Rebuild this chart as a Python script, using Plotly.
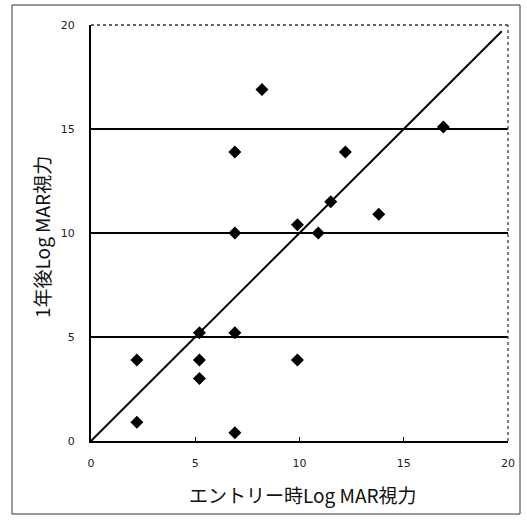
import plotly.graph_objects as go

# Data
entry_logmar = [8.2, 6.9, 12.2, 16.9, 11.5, 13.8, 9.9, 6.9, 10.9,
                5.2, 6.9, 2.2, 5.2, 9.9, 5.2, 2.2, 6.9]
after_1yr_logmar = [16.9, 13.9, 13.9, 15.1, 11.5, 10.9, 10.4, 10.0, 10.0,
                    5.2, 5.2, 3.9, 3.9, 3.9, 3.0, 0.9, 0.4]
diag_x = [0, 19.7]
diag_y = [0, 19.7]
tick_vals = [0, 5, 10, 15, 20]
tick_text = ["0", "5", "10", "15", "20"]

x_title = "エントリー時Log MAR視力"
y_title = "1年後Log MAR視力"

W, H = 527, 520
L, R, T, B = 91, 508, 25, 441
pw, ph = R - L, B - T


def px(x):
    return (x - L) / pw


def py(y):
    return (B - y) / ph


fig = go.Figure()
fig.add_trace(go.Scatter(x=diag_x, y=diag_y, mode="lines",
                         line=dict(color="black", width=2),
                         showlegend=False, hoverinfo="skip"))
fig.add_trace(go.Scatter(x=entry_logmar, y=after_1yr_logmar, mode="markers",
                         marker=dict(symbol="diamond", size=10, color="black"),
                         showlegend=False))

axis_font = dict(family="DejaVu Sans", size=11, color="#222")
fig.update_xaxes(range=[0, 20], tickvals=tick_vals, ticktext=tick_text,
                 showgrid=False, zeroline=False, showline=True,
                 linecolor="black", linewidth=2, ticks="inside", ticklen=4,
                 tickcolor="black", tickfont=axis_font, ticklabelstandoff=11)
fig.update_yaxes(range=[0, 20], tickvals=tick_vals, ticktext=tick_text,
                 showgrid=True, gridcolor="black", gridwidth=2,
                 zeroline=False, showline=True,
                 linecolor="black", linewidth=2, ticks="inside", ticklen=4,
                 tickcolor="black", tickfont=axis_font, ticklabelstandoff=12)

shapes = [
    # top and right plot borders (dotted in the scan)
    dict(type="line", xref="paper", yref="paper", x0=0, x1=1, y0=1, y1=1,
         line=dict(color="#333", width=1.5, dash="dot")),
    dict(type="line", xref="paper", yref="paper", x0=1, x1=1, y0=0, y1=1,
         line=dict(color="#555", width=1.5, dash="dot")),
    # outer frame of the figure
    dict(type="rect", xref="paper", yref="paper",
         x0=px(12), x1=px(520), y0=py(514), y1=py(5),
         line=dict(color="#333", width=1)),
]

title_font = dict(family="Noto Sans CJK JP", size=19, color="#111")
annotations = [
    dict(text=x_title, xref="paper", yref="paper", x=px(303), y=py(494),
         xanchor="center", yanchor="middle", showarrow=False, font=title_font),
    dict(text=y_title, xref="paper", yref="paper", x=px(41), y=py(237),
         xanchor="center", yanchor="middle", showarrow=False, textangle=-90,
         font=title_font),
]

fig.update_layout(width=W, height=H,
                  margin=dict(l=L, r=W - R, t=T, b=H - B),
                  paper_bgcolor="white", plot_bgcolor="white",
                  shapes=shapes, annotations=annotations, showlegend=False)

fig.write_html("out.html", config={"displayModeBar": False},
               post_script="document.body.style.margin='0';"
                           "document.body.style.overflow='hidden';")
